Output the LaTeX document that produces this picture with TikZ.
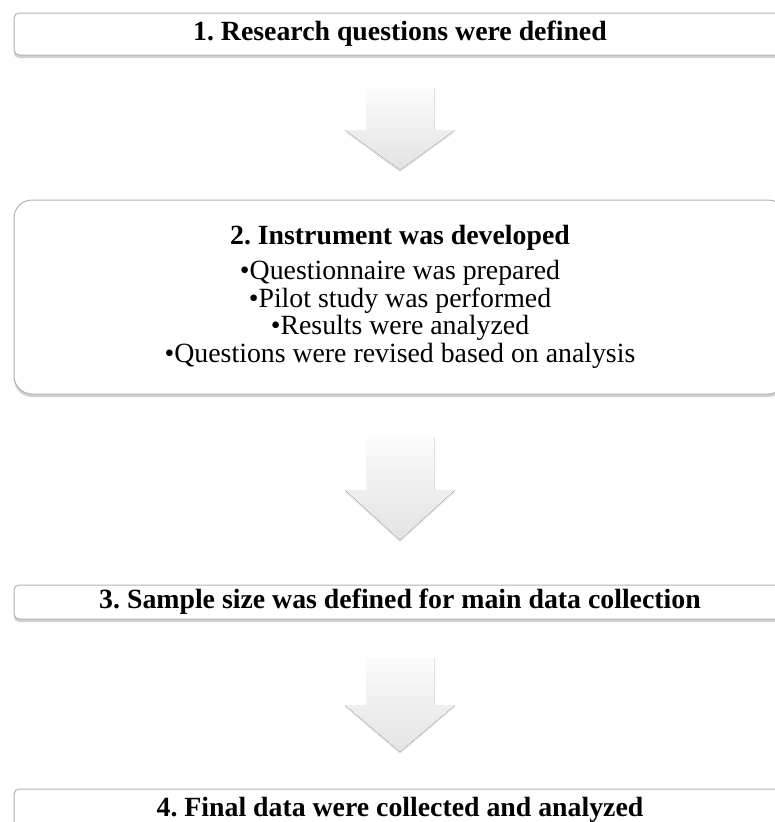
\documentclass[tikz,border=0pt]{standalone}
\usepackage{fontspec}
\setmainfont{Liberation Serif}
\usetikzlibrary{shadows}
\frenchspacing

\newcommand{\flowarrow}[4]{% centre x, shaft top, head base, tip
	\fill[downarrow] (#1-34,#2) -- (#1+34,#2) -- (#1+34,#3) -- (#1+55,#3)
		-- (#1,#4) -- (#1-55,#3) -- (#1-34,#3) -- cycle;}

\tikzset{
	stepbox/.style={draw=gray!60, line width=1pt, fill=white, rounded corners=5pt,
		minimum width=772pt, inner sep=0pt,
		font=\fontsize{27.8}{27.7}\selectfont\bfseries,
		drop shadow={shadow xshift=0pt, shadow yshift=-3pt, opacity=0.45, fill=gray!80}},
	listbox/.style={stepbox, font=\fontsize{27.8}{27.7}\selectfont\mdseries,
		rounded corners=18pt, align=center},
	downarrow/.style={top color=gray!3, bottom color=gray!22,
		drop shadow={shadow xshift=0pt, shadow yshift=-2pt, opacity=0.2, fill=gray}},
}

\begin{document}
\begin{tikzpicture}[x=1pt,y=-1pt]
	\useasboundingbox (0,0) rectangle (774,822);

	\node[stepbox, minimum height=42pt] (defined) at (400,34) {1. Research questions were defined};

	\node[listbox, minimum height=194pt] (instrument) at (400,297)
		{\textbf{2. Instrument was developed}\\[7pt]
		\textbullet Questionnaire was prepared\\
		\textbullet Pilot study was performed\\
		\textbullet Results were analyzed\\
		\textbullet Questions were revised based on analysis};

	\node[stepbox, minimum height=34pt] (sample) at (400,602) {3. Sample size was defined for main data collection};

	\node[stepbox, minimum height=42pt] (final) at (400,810) {4. Final data were collected and analyzed};

	% Arrows between the steps
	\flowarrow{400}{88}{130}{170}
	\flowarrow{400}{437}{490}{540}
	\flowarrow{400}{658}{705}{752}
\end{tikzpicture}
\end{document}
